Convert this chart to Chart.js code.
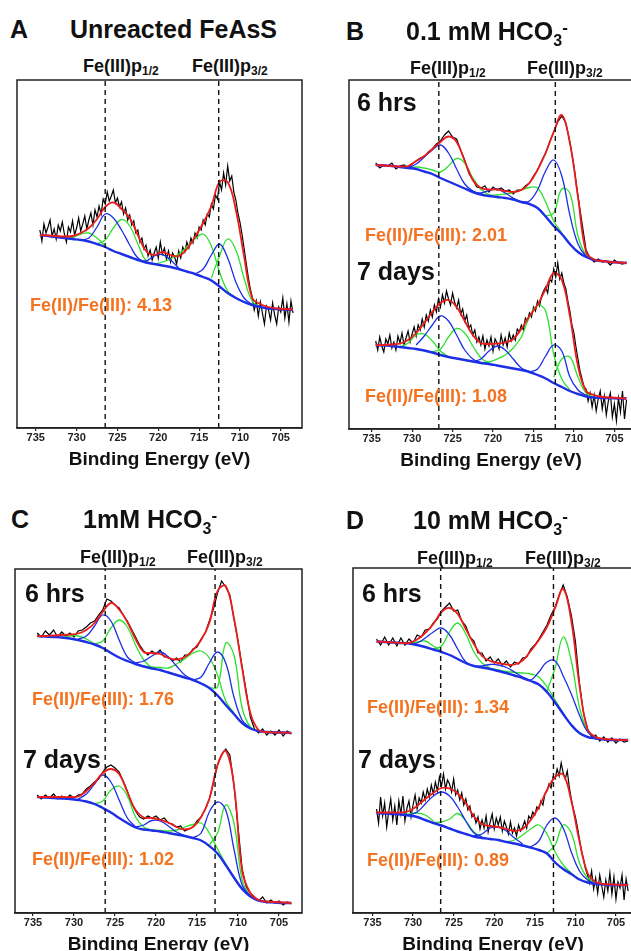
<!DOCTYPE html>
<html lang="en">
<head>
<meta charset="UTF-8">
<title>Fe 2p XPS spectra</title>
<style>
  html, body { margin: 0; padding: 0; background: #fff; }
  body { width: 631px; height: 951px; overflow: hidden; position: relative;
         font-family: "Liberation Sans", Arial, sans-serif; font-weight: bold; color: #111; }
  canvas { position: absolute; }
  .t { position: absolute; white-space: nowrap; line-height: 1; }
  .big { font-size: 25px; }
  .big sub { font-size: 16px; vertical-align: -6px; }
  .big sup { font-size: 17px; vertical-align: 7px; }
  .pk { font-size: 18px; }
  .pk sub { font-size: 12px; vertical-align: -3px; }
  .ratio { font-size: 18px; color: #f47321; }
</style>
<script src="https://cdn.jsdelivr.net/npm/chart.js"></script>
</head>
<body>
<canvas id="chartA" width="293" height="400" style="left:13px;top:78px"></canvas>
<canvas id="chartB" width="292" height="401" style="left:345px;top:78px"></canvas>
<canvas id="chartC" width="295" height="396" style="left:11px;top:567px"></canvas>
<canvas id="chartD" width="288" height="397" style="left:349px;top:566px"></canvas>

<div class="t big" style="left:10px;top:17px">A</div>
<div class="t big" style="left:70px;top:17px">Unreacted FeAsS</div>
<div class="t pk" style="left:83px;top:57px">Fe(III)p<sub>1/2</sub></div>
<div class="t pk" style="left:192px;top:57px">Fe(III)p<sub>3/2</sub></div>
<div class="t ratio" style="left:30px;top:296px">Fe(II)/Fe(III): 4.13</div>

<div class="t big" style="left:346px;top:19px">B</div>
<div class="t big" style="left:406px;top:19px">0.1 mM HCO<sub>3</sub><sup>-</sup></div>
<div class="t pk" style="left:410px;top:59px">Fe(III)p<sub>1/2</sub></div>
<div class="t pk" style="left:527px;top:59px">Fe(III)p<sub>3/2</sub></div>
<div class="t big" style="left:357px;top:90px">6 hrs</div>
<div class="t ratio" style="left:365px;top:226px">Fe(II)/Fe(III): 2.01</div>
<div class="t big" style="left:357px;top:259px">7 days</div>
<div class="t ratio" style="left:365px;top:387px">Fe(II)/Fe(III): 1.08</div>

<div class="t big" style="left:11px;top:507px">C</div>
<div class="t big" style="left:83px;top:507px">1mM HCO<sub>3</sub><sup>-</sup></div>
<div class="t pk" style="left:80px;top:548px">Fe(III)p<sub>1/2</sub></div>
<div class="t pk" style="left:187px;top:548px">Fe(III)p<sub>3/2</sub></div>
<div class="t big" style="left:25px;top:581px">6 hrs</div>
<div class="t ratio" style="left:32px;top:690px">Fe(II)/Fe(III): 1.76</div>
<div class="t big" style="left:23px;top:747px">7 days</div>
<div class="t ratio" style="left:32px;top:850px">Fe(II)/Fe(III): 1.02</div>

<div class="t big" style="left:346px;top:508px">D</div>
<div class="t big" style="left:413px;top:508px">10 mM HCO<sub>3</sub><sup>-</sup></div>
<div class="t pk" style="left:417px;top:549px">Fe(III)p<sub>1/2</sub></div>
<div class="t pk" style="left:525px;top:549px">Fe(III)p<sub>3/2</sub></div>
<div class="t big" style="left:362px;top:581px">6 hrs</div>
<div class="t ratio" style="left:367px;top:698px">Fe(II)/Fe(III): 1.34</div>
<div class="t big" style="left:358px;top:747px">7 days</div>
<div class="t ratio" style="left:367px;top:851px">Fe(II)/Fe(III): 0.89</div>

<script>
// binding energy grids (eV): 1 eV for fitted curves, 0.5 / 0.25 eV for measured data
const E1 = [734.5, 733.5, 732.5, 731.5, 730.5, 729.5, 728.5, 727.5, 726.5, 725.5, 724.5, 723.5, 722.5, 721.5, 720.5, 719.5,
            718.5, 717.5, 716.5, 715.5, 714.5, 713.5, 712.5, 711.5, 710.5, 709.5, 708.5, 707.5, 706.5, 705.5, 704.5, 703.5];
const E05 = [734.5, 734, 733.5, 733, 732.5, 732, 731.5, 731, 730.5, 730, 729.5, 729, 728.5, 728, 727.5, 727, 726.5, 726,
             725.5, 725, 724.5, 724, 723.5, 723, 722.5, 722, 721.5, 721, 720.5, 720, 719.5, 719, 718.5, 718, 717.5, 717,
             716.5, 716, 715.5, 715, 714.5, 714, 713.5, 713, 712.5, 712, 711.5, 711, 710.5, 710, 709.5, 709, 708.5, 708,
             707.5, 707, 706.5, 706, 705.5, 705, 704.5, 704, 703.5];
const E025 = [734.5, 734.25, 734, 733.75, 733.5, 733.25, 733, 732.75, 732.5, 732.25, 732, 731.75, 731.5, 731.25, 731, 730.75,
              730.5, 730.25, 730, 729.75, 729.5, 729.25, 729, 728.75, 728.5, 728.25, 728, 727.75, 727.5, 727.25, 727, 726.75,
              726.5, 726.25, 726, 725.75, 725.5, 725.25, 725, 724.75, 724.5, 724.25, 724, 723.75, 723.5, 723.25, 723, 722.75,
              722.5, 722.25, 722, 721.75, 721.5, 721.25, 721, 720.75, 720.5, 720.25, 720, 719.75, 719.5, 719.25, 719, 718.75,
              718.5, 718.25, 718, 717.75, 717.5, 717.25, 717, 716.75, 716.5, 716.25, 716, 715.75, 715.5, 715.25, 715, 714.75,
              714.5, 714.25, 714, 713.75, 713.5, 713.25, 713, 712.75, 712.5, 712.25, 712, 711.75, 711.5, 711.25, 711, 710.75,
              710.5, 710.25, 710, 709.75, 709.5, 709.25, 709, 708.75, 708.5, 708.25, 708, 707.75, 707.5, 707.25, 707, 706.75,
              706.5, 706.25, 706, 705.75, 705.5, 705.25, 705, 704.75, 704.5, 704.25, 704, 703.75, 703.5];
const TICKS = [735, 730, 725, 720, 715, 710, 705];

// A: unreacted FeAsS (raw on the 0.25 eV grid)
const A_raw = [198, 187, 204, 195, 201, 208, 192, 199, 189, 203, 197, 206, 194, 186, 201, 196,
               207, 193, 200, 210, 197, 204, 212, 199, 208, 215, 203, 218, 211, 222, 214, 229,
               224, 236, 227, 232, 238, 225, 230, 221, 226, 214, 220, 208, 213, 203, 207, 195,
               198, 186, 190, 179, 183, 172, 178, 168, 175, 181, 170, 186, 174, 180, 169, 177,
               166, 175, 171, 164, 177, 170, 181, 176, 186, 180, 190, 185, 195, 190, 201, 198,
               208, 203, 214, 211, 224, 219, 233, 229, 246, 238, 255, 243, 262, 247, 252, 236,
               228, 215, 206, 194, 180, 166, 152, 140, 131, 118, 127, 112, 126, 115, 104, 122,
               118, 108, 125, 113, 104, 121, 116, 130, 110, 124, 106, 127, 115];
const A_fit = [193, 192.5, 192, 191.5, 192, 195, 200, 209, 221, 225.5, 219, 210, 193, 177, 173, 176,
               173, 172, 179, 191, 205, 222, 246, 246, 218, 172, 130, 124, 121, 119.5, 119, 118.5];
const A_base = [193, 192, 191, 190, 189, 188, 186.5, 184, 181, 177, 174, 171, 168, 165.5, 164, 162.5,
                161, 159, 156.5, 154, 151, 147.5, 141.5, 135, 130, 126, 123, 121, 119.5, 119, 118.5, 118];
const A_blue = [[729.5, [188, 190, 201, 214, 210, 198, 183, 170, 166]],
                [722.5, [168, 167, 172, 173.5, 168, 160]],
                [715.5, [154, 159, 173, 184, 170, 146, 130, 123.5]]];
const A_green = [[731.5, [190, 190.5, 194, 195, 190, 182]],
                 [727.5, [184, 188, 200, 208.5, 202, 184, 167, 164]],
                 [720.5, [164, 166, 169, 174, 181, 189, 194, 182, 156, 137, 130]],
                 [713.5, [150, 172, 189, 178, 150, 127, 121]]];

// B: 0.1 mM HCO3-, 6 hrs (raw on the 0.5 eV grid)
const B6_raw = [266, 261, 264, 263, 266, 260, 263, 264, 261, 265, 268, 271, 272, 277, 280, 285, 288, 294, 298, 292,
                290, 279, 269, 256, 249, 242, 241, 243, 237, 242, 239, 241, 238, 239, 235, 239, 239, 243, 246, 253,
                259, 268, 276, 287, 297, 307, 313, 306, 287, 263, 233, 206, 179, 171, 167, 170, 167, 168, 164, 169,
                166, 165, 167];
const B6_fit = [264, 263.5, 263, 262.5, 263, 268, 273, 280, 287, 292.5, 287, 268, 249, 241, 239.5, 239.5,
                238, 237, 239, 246, 259, 276, 297, 314, 286, 232, 177, 169.5, 168, 167, 166.5, 166];
const B6_base = [264, 263.5, 263, 262, 261, 260, 257.5, 255, 251, 247.5, 244, 240.5, 237, 234.5, 233, 232,
                 231, 229.5, 227, 225, 221, 212.5, 203, 195, 185, 177, 172, 169, 168, 167, 166.5, 166];
const B6_blue = [[730.5, [261, 265, 272, 279, 284, 276, 260, 245, 238, 234.5]],
                 [722.5, [237, 236, 238.5, 240, 236, 231, 227]],
                 [716.5, [227, 228, 239, 258, 269, 253, 214, 185, 173, 169]]];
const B6_green = [[730.5, [261, 262, 261, 259, 257, 263, 270.5, 266, 251, 240, 234]],
                  [720.5, [234, 234, 235, 236.5, 239, 241.5, 241, 227, 208, 196]],
                  [713.5, [213, 216, 240, 236, 193, 174, 169.5]]];

// B: 0.1 mM HCO3-, 7 days (raw on the 0.25 eV grid)
const B7_raw = [88, 79, 92, 83, 77, 90, 85, 94, 81, 87, 79, 93, 86, 96, 84, 91,
                98, 87, 95, 102, 93, 104, 99, 110, 102, 114, 108, 119, 112, 124, 117, 130,
                122, 134, 126, 138, 130, 124, 136, 127, 121, 129, 115, 120, 108, 114, 101, 104,
                94, 99, 87, 92, 84, 93, 80, 89, 83, 92, 78, 90, 86, 80, 94, 84,
                91, 82, 96, 88, 94, 89, 100, 97, 104, 99, 111, 108, 116, 112, 122, 118,
                128, 123, 133, 138, 142, 136, 150, 147, 160, 152, 166, 150, 156, 146, 140, 128,
                118, 104, 96, 82, 70, 58, 50, 42, 40, 28, 36, 22, 34, 18, 30, 38,
                20, 33, 14, 28, 36, 12, 25, 8, 31, 17, 38, 10, 29];
const B7_fit = [84, 84, 84.5, 85.5, 89, 96, 106, 117, 126, 129, 122, 108, 94, 86, 85, 85.5,
                86.5, 90, 100, 113, 124, 140, 156, 149, 113, 63, 38, 34, 32, 31.5, 31, 30.5];
const B7_base = [84, 83.5, 83, 82, 81, 80, 78.5, 76.5, 74, 72, 70.5, 69, 67.5, 66, 65, 63.5,
                 62, 60.5, 59, 57, 54, 50.5, 46, 42, 38, 35, 32.5, 31.5, 31, 31, 30.5, 30.5];
const B7_blue = [[729.5, [84, 93, 104, 113, 108, 94, 79, 70, 66.5]],
                 [722.5, [67.5, 70, 78, 83, 79, 70, 61, 57.5]],
                 [715.5, [57, 60, 73, 84, 78, 52, 39, 33.5]]];
const B7_green = [[731.5, [82, 86, 94, 95, 88, 78, 72]],
                  [727.5, [77, 80, 92, 100.5, 96, 83, 71, 66]],
                  [721.5, [66, 67, 70, 74, 81, 92, 112, 124, 118, 75, 50, 39]],
                  [712.5, [52, 70, 72, 52, 36, 32]]];

// C: 1 mM HCO3-, 6 hrs (raw on the 0.5 eV grid)
const C6_raw = [280, 276, 282, 278, 283, 276, 281, 277, 280, 276, 282, 283, 286, 290, 292, 298, 303, 314, 312, 308,
                305, 298, 292, 284, 276, 268, 262, 258, 262, 259, 263, 256, 256, 252, 255, 251, 258, 258, 264, 266,
                274, 280, 292, 304, 320, 332, 326, 318, 294, 272, 246, 222, 196, 184, 180, 184, 178, 182, 178, 183,
                177, 182, 179];
const C6_fit = [277, 277, 277.5, 278, 278.5, 279.5, 283, 290, 301, 310, 303.5, 291, 274, 261, 260, 259,
                255, 253.5, 256, 263, 273, 290, 322, 327, 295, 245, 200, 183, 181, 180.5, 180.5, 180];
const C6_base = [277, 276.5, 276, 275.5, 274.5, 273, 271, 268.5, 265, 260, 255.5, 252, 249, 246.5, 244.5, 243,
                 240.5, 238, 235.5, 233, 229.5, 225, 217.5, 208, 199, 190, 184.5, 182, 181, 180.5, 180.5, 180];
const C6_blue = [[729.5, [274, 277, 287, 298, 292, 273, 256, 250]],
                 [722.5, [250, 252, 257, 261, 256, 247, 238, 233.5]],
                 [715.5, [233, 236, 250, 261, 250, 216, 193, 185]]];
const C6_green = [[731.5, [275.5, 277, 277, 274, 269]],
                  [727.5, [269, 272, 285, 293, 286, 268, 253, 245]],
                  [721.5, [247, 246, 245.5, 245, 249, 254, 260, 262, 255, 238, 212, 200]],
                  [713.5, [225, 226, 270, 258, 205, 186, 182]]];

// C: 1 mM HCO3-, 7 days (raw on the 0.5 eV grid)
const C7_raw = [118, 114, 118, 115, 119, 114, 117, 114, 118, 115, 118, 119, 124, 127, 131, 134, 141, 146, 148, 145,
                141, 132, 122, 110, 102, 96, 94, 97, 95, 97, 93, 95, 90, 89, 86, 87, 82, 84, 86, 92,
                96, 104, 114, 130, 148, 158, 164, 158, 128, 86, 44, 26, 20, 16, 12, 16, 10, 13, 10, 12,
                8, 11, 9];
const C7_fit = [116, 116, 116, 116, 116, 116.5, 122, 130, 140, 144, 139, 121, 103, 95.5, 95, 93,
                90.5, 86, 83.5, 86, 96, 114, 148, 162, 128, 42, 20, 13, 11.5, 11, 10.5, 10];
const C7_base = [116, 115.5, 115, 114.5, 114, 113, 111.5, 109, 105, 100.5, 95, 90, 85.5, 83.5, 82.5, 81.5,
                 80, 78.5, 77, 75, 72.5, 67, 59.5, 48, 35.5, 24, 16.5, 12.5, 11, 10.5, 10, 10];
const C7_blue = [[729.5, [114, 119, 129, 138, 131, 113, 95, 86]],
                 [722.5, [86, 88, 92.5, 92, 87, 81, 77.5]],
                 [715.5, [75, 80, 101, 111, 103, 64, 28, 17]]];
const C7_green = [[727.5, [109, 112, 123, 127, 117, 96, 86, 83]],
                  [720.5, [83, 82.5, 82, 83, 86, 88.5, 90, 80, 64, 49]],
                  [713.5, [68, 80, 108, 90, 33, 17, 12.5]]];

// D: 10 mM HCO3-, 6 hrs (raw on the 0.5 eV grid)
const D6_raw = [274, 268, 276, 268, 275, 267, 275, 268, 274, 270, 278, 276, 283, 284, 290, 294, 302, 306, 310, 302,
                303, 292, 287, 276, 272, 260, 260, 252, 256, 250, 254, 248, 252, 246, 251, 249, 255, 256, 264, 268,
                274, 281, 288, 298, 306, 318, 328, 316, 298, 272, 230, 200, 184, 176, 178, 172, 176, 171, 175, 170,
                174, 171, 172];
const D6_fit = [271.5, 271, 270.5, 270, 270, 273.5, 280, 289, 301, 305, 299, 284, 269, 257, 252, 250,
                248.5, 248.5, 252.5, 262, 273, 286, 305, 324, 292, 228, 184, 176, 174, 173.5, 173, 173];
const D6_base = [271.5, 271, 270.5, 270, 269.5, 268, 266, 263.5, 261, 258, 254, 250, 247, 245.5, 244, 242,
                 240, 237.5, 235, 232, 228.5, 221, 210.5, 199, 188, 180, 176, 174.5, 173.5, 173, 173, 173];
const D6_blue = [[730.5, [269.5, 270, 275, 281, 285, 278, 264, 251, 247]],
                 [722.5, [247, 247, 248.5, 248, 245.5, 241, 236, 232.5]],
                 [716.5, [235, 233, 241, 251, 252, 237, 219, 198, 181, 175]]];
const D6_green = [[730.5, [269.5, 271, 272, 267, 262]],
                  [727.5, [264, 267, 281, 290, 279, 261, 250, 245]],
                  [720.5, [244.5, 243, 241.5, 240.5, 240, 239, 236, 226, 213, 200]],
                  [713.5, [222, 245, 276, 252, 206, 182, 175]]];

// D: 10 mM HCO3-, 7 days (raw on the 0.25 eV grid)
const D7_raw = [104, 90, 116, 97, 110, 86, 101, 114, 93, 107, 88, 112, 99, 117, 92, 105,
                112, 96, 108, 118, 104, 115, 110, 121, 113, 124, 116, 128, 119, 131, 122, 136,
                127, 139, 124, 133, 129, 121, 134, 118, 123, 113, 120, 108, 114, 103, 107, 96,
                99, 90, 96, 84, 93, 85, 97, 81, 91, 99, 84, 95, 88, 96, 82, 92,
                86, 79, 91, 80, 85, 77, 88, 82, 86, 92, 85, 97, 94, 101, 98, 106,
                104, 112, 108, 119, 122, 129, 125, 136, 134, 144, 137, 150, 140, 134, 142, 126,
                114, 104, 96, 86, 74, 62, 54, 44, 38, 30, 42, 24, 35, 20, 38, 27,
                16, 33, 22, 40, 19, 36, 14, 31, 25, 38, 13, 34, 22];
const D7_fit = [100.5, 100.5, 100.5, 100.5, 102, 107, 114, 120, 125, 124.5, 119.5, 110, 96.5, 89, 87, 86,
                84, 82, 84, 93, 106, 123, 136, 138.5, 112, 72, 40, 31, 29, 28.5, 28, 28];
const D7_base = [100, 99.5, 99, 98.5, 97.5, 96, 93, 90, 87.5, 84.5, 81.5, 79, 76.5, 75, 74, 73,
                 71, 69.5, 67.5, 65.5, 63, 59.5, 50.5, 44, 39, 33.5, 30.5, 29, 28.5, 28, 28, 28];
const D7_blue = [[730.5, [98, 101, 109, 117, 121, 117, 106, 92, 80, 76]],
                 [722.5, [77, 79, 85, 86, 82, 75, 69]],
                 [715.5, [66, 72, 88, 95, 85, 61, 42, 33, 29.5]]];
const D7_green = [[731.5, [98.5, 99, 100, 98, 92]],
                  [727.5, [90.5, 91, 94, 99.5, 92, 81, 76]],
                  [718.5, [71, 73, 78, 84, 88, 79, 61, 48, 40]],
                  [713.5, [60, 68, 88, 80, 50, 35, 30]]];

const RED = '#ec1c1c';
const BLUE = '#1c2fe6';
const GREEN = '#2ee02e';

function onGrid(grid, vals) {
    return vals.map((y, i) => ({ x: grid[i], y }));
}

function rawGrid(vals) {
    return vals.length === E025.length ? E025 : E05;
}

function piece(c) {
    const start = c[0];
    return c[1].map((y, i) => ({ x: start - i, y }));
}

function line(points, color, width, extra) {
    return Object.assign({
        data: points, borderColor: color, borderWidth: width,
        pointRadius: 0, fill: false, tension: 0.4
    }, extra || {});
}

const frame = {
    id: 'frame',
    afterDraw(chart) {
        const a = chart.chartArea, ctx = chart.ctx;
        ctx.save();
        ctx.strokeStyle = '#222';
        ctx.lineWidth = 1.5;
        ctx.strokeRect(a.left, a.top, a.right - a.left, a.bottom - a.top);
        ctx.restore();
    }
};

function buildPanel(id, spectra, dash, xmin, xmax, ymax) {
    const ds = [];
    // first dataset is painted last, so the list goes from top layer to bottom layer
    dash.forEach(e => ds.push(line([{ x: e, y: 0 }, { x: e, y: ymax }], '#111', 1.4, { borderDash: [5, 4], tension: 0 })));
    spectra.forEach(s => ds.push(line(onGrid(E1, s.fit), RED, 1.8)));
    spectra.forEach(s => ds.push(line(onGrid(E1, s.base), BLUE, 2.4)));
    spectra.forEach(s => s.blue.forEach(c => ds.push(line(piece(c), BLUE, 1.3))));
    spectra.forEach(s => s.green.forEach(c => ds.push(line(piece(c), GREEN, 1.3))));
    spectra.forEach(s => ds.push(line(onGrid(rawGrid(s.raw), s.raw), '#000', 1.2, { tension: 0 })));

    new Chart(document.getElementById(id), {
        type: 'line',
        data: { datasets: ds },
        options: {
            responsive: false,
            animation: false,
            layout: { padding: { left: 4, right: 4, top: 2, bottom: 0 } },
            plugins: { legend: { display: false }, tooltip: { enabled: false } },
            scales: {
                x: {
                    type: 'linear', reverse: true, min: xmin, max: xmax,
                    afterBuildTicks: s => { s.ticks = TICKS.map(v => ({ value: v })); },
                    afterFit: s => { s.height = 50; },
                    ticks: { color: '#222', padding: 0, font: { family: 'Liberation Sans', size: 11, weight: 'bold' },
                             callback: v => String(v) },
                    grid: { drawOnChartArea: false, tickLength: 3, color: '#222', lineWidth: 1.2 },
                    border: { display: true, color: '#222', width: 1.5 },
                    title: { display: true, text: 'Binding Energy (eV)', color: '#111',
                             font: { family: 'Liberation Sans', size: 19, weight: 'bold' },
                             padding: { top: 0, bottom: 7 } }
                },
                y: { display: false, min: 0, max: ymax }
            }
        },
        plugins: [frame]
    });
}

buildPanel('chartA', [{ raw: A_raw, fit: A_fit, base: A_base, blue: A_blue, green: A_green }],
    [726.5, 712.6], 702.4, 737.3, 348);
buildPanel('chartB', [{ raw: B6_raw, fit: B6_fit, base: B6_base, blue: B6_blue, green: B6_green },
                      { raw: B7_raw, fit: B7_fit, base: B7_base, blue: B7_blue, green: B7_green }],
    [726.7, 712.3], 702.7, 737.8, 349);
buildPanel('chartC', [{ raw: C6_raw, fit: C6_fit, base: C6_base, blue: C6_blue, green: C6_green },
                      { raw: C7_raw, fit: C7_fit, base: C7_base, blue: C7_blue, green: C7_green }],
    [726.2, 712.8], 702.2, 737.2, 344);
buildPanel('chartD', [{ raw: D6_raw, fit: D6_fit, base: D6_base, blue: D6_blue, green: D6_green },
                      { raw: D7_raw, fit: D7_fit, base: D7_base, blue: D7_blue, green: D7_green }],
    [726.6, 712.7], 702.9, 737.4, 345);
</script>
</body>
</html>
